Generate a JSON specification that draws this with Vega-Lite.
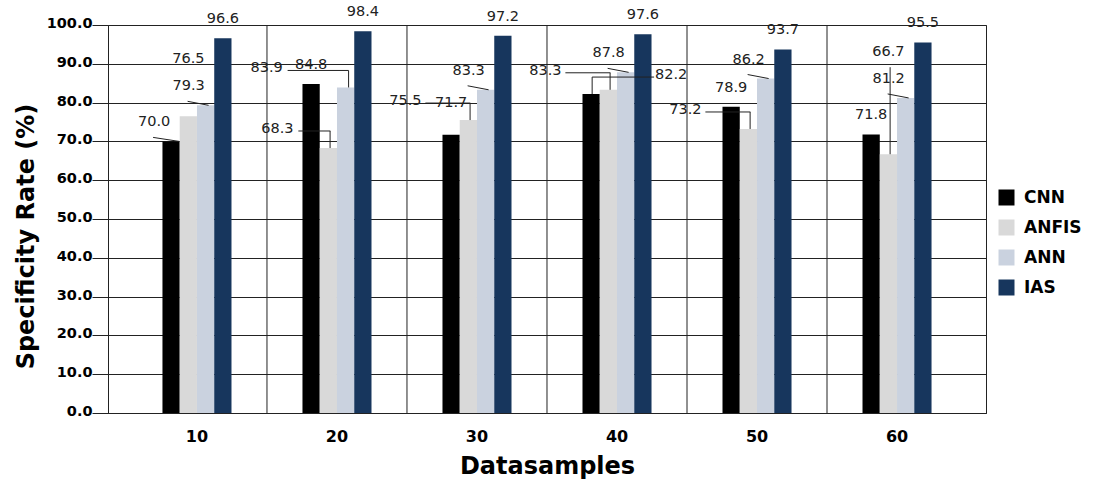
{
  "$schema": "https://vega.github.io/schema/vega-lite/v6.json",
  "width": 878,
  "height": 388,
  "autosize": {"type": "none"},
  "padding": {"left": 108, "top": 25, "right": 121, "bottom": 70},
  "background": "white",
  "config": {
    "font": "DejaVu Sans",
    "view": {"stroke": "#222222", "strokeWidth": 1}
  },
  "data": {
    "values": [
      {"Datasamples": "10", "Model": "CNN", "Rate": 70.0},
      {"Datasamples": "10", "Model": "ANFIS", "Rate": 76.5},
      {"Datasamples": "10", "Model": "ANN", "Rate": 79.3},
      {"Datasamples": "10", "Model": "IAS", "Rate": 96.6},
      {"Datasamples": "20", "Model": "CNN", "Rate": 84.8},
      {"Datasamples": "20", "Model": "ANFIS", "Rate": 68.3},
      {"Datasamples": "20", "Model": "ANN", "Rate": 83.9},
      {"Datasamples": "20", "Model": "IAS", "Rate": 98.4},
      {"Datasamples": "30", "Model": "CNN", "Rate": 71.7},
      {"Datasamples": "30", "Model": "ANFIS", "Rate": 75.5},
      {"Datasamples": "30", "Model": "ANN", "Rate": 83.3},
      {"Datasamples": "30", "Model": "IAS", "Rate": 97.2},
      {"Datasamples": "40", "Model": "CNN", "Rate": 82.2},
      {"Datasamples": "40", "Model": "ANFIS", "Rate": 83.3},
      {"Datasamples": "40", "Model": "ANN", "Rate": 87.8},
      {"Datasamples": "40", "Model": "IAS", "Rate": 97.6},
      {"Datasamples": "50", "Model": "CNN", "Rate": 78.9},
      {"Datasamples": "50", "Model": "ANFIS", "Rate": 73.2},
      {"Datasamples": "50", "Model": "ANN", "Rate": 86.2},
      {"Datasamples": "50", "Model": "IAS", "Rate": 93.7},
      {"Datasamples": "60", "Model": "CNN", "Rate": 71.8},
      {"Datasamples": "60", "Model": "ANFIS", "Rate": 66.7},
      {"Datasamples": "60", "Model": "ANN", "Rate": 81.2},
      {"Datasamples": "60", "Model": "IAS", "Rate": 95.5}
    ]
  },
  "encoding": {
    "x": {
      "field": "Datasamples",
      "type": "ordinal",
      "scale": {"paddingInner": 0.507, "paddingOuter": 0.389},
      "axis": {
        "title": "Datasamples",
        "titleFontSize": 24,
        "titleFontWeight": "bold",
        "titleColor": "#000000",
        "titleX": 439,
        "titleY": 60,
        "titleBaseline": "alphabetic",
        "titleAlign": "center",
        "labelAngle": 0,
        "labelFontSize": 16,
        "labelFontWeight": "bold",
        "labelColor": "#000000",
        "labelPadding": 15,
        "labelBaseline": "top",
        "ticks": false,
        "tickSize": 0,
        "domain": true,
        "domainColor": "#222222",
        "grid": false
      }
    },
    "y": {
      "field": "Rate",
      "type": "quantitative",
      "scale": {"domain": [0, 100]},
      "axis": {
        "values": [0, 10, 20, 30, 40, 50, 60, 70, 80, 90, 100],
        "format": ".1f",
        "labelOverlap": false,
        "grid": true,
        "gridColor": "#222222",
        "gridOpacity": 1,
        "tickSize": 16,
        "tickColor": "#222222",
        "domainColor": "#222222",
        "labelPadding": 0,
        "labelOffset": -1.5,
        "labelFontSize": 14.5,
        "labelFontWeight": "bold",
        "labelColor": "#000000",
        "title": "Specificity Rate (%)",
        "titleFontSize": 24,
        "titleFontWeight": "bold",
        "titleColor": "#000000",
        "titleAngle": -90,
        "titleX": -75,
        "titleY": 211,
        "titleAlign": "center",
        "titleBaseline": "alphabetic"
      }
    }
  },
  "layer": [
    {
      "transform": [{"filter": "datum.Model == 'CNN' && datum.Datasamples != '10'"}],
      "mark": {"type": "rule", "color": "#222222", "strokeWidth": 1, "y2Offset": 14},
      "encoding": {
        "x": {"field": "Datasamples", "type": "ordinal", "bandPosition": -0.5143},
        "y": null
      }
    },
    {
      "mark": {"type": "bar"},
      "encoding": {
        "xOffset": {
          "field": "Model",
          "type": "nominal",
          "sort": ["CNN", "ANFIS", "ANN", "IAS"],
          "scale": {"paddingInner": 0, "paddingOuter": 0}
        },
        "color": {
          "field": "Model",
          "type": "nominal",
          "scale": {
            "domain": ["CNN", "ANFIS", "ANN", "IAS"],
            "range": ["#000000", "#D9D9D9", "#CAD2DF", "#17365D"]
          },
          "legend": {
            "title": null,
            "orient": "none",
            "legendX": 890,
            "legendY": 164,
            "padding": 0,
            "symbolType": "square",
            "symbolSize": 256,
            "symbolStrokeWidth": 0,
            "labelFontSize": 17,
            "labelFontWeight": "bold",
            "labelColor": "#000000",
            "labelOffset": 9,
            "rowPadding": 12
          }
        }
      }
    },
    {
      "transform": [{"filter": "datum.Model == 'CNN' && (datum.Datasamples == '10' || datum.Datasamples == '40')"}],
      "mark": {
        "type": "rule", "color": "#222222", "strokeWidth": 1,
        "xOffset": {"expr": "datum.Datasamples == '10' ? -18 : 63"},
        "x2Offset": {"expr": "datum.Datasamples == '10' ? 8 : 1"},
        "yOffset": {"expr": "datum.Datasamples == '10' ? -4 : -17"},
        "y2Offset": {"expr": "datum.Datasamples == '10' ? 0 : -17"}
      },
      "encoding": {
        "x": {"field": "Datasamples", "type": "ordinal", "bandPosition": 0.125},
        "x2": {"field": "Datasamples", "bandPosition": 0.125},
        "y2": {"field": "Rate"}
      }
    },
    {
      "transform": [{"filter": "datum.Model == 'CNN' && datum.Datasamples == '40'"}],
      "mark": {"type": "rule", "color": "#222222", "strokeWidth": 1, "yOffset": -17},
      "encoding": {
        "x": {"field": "Datasamples", "type": "ordinal", "bandPosition": 0.14},
        "y2": {"field": "Rate"}
      }
    },
    {
      "transform": [{"filter": "datum.Model == 'ANFIS' && datum.Datasamples != '10' && datum.Datasamples != '60'"}],
      "mark": {
        "type": "rule", "color": "#222222", "strokeWidth": 1,
        "xOffset": {"expr": "datum.Datasamples == '20' ? -30 : -43"},
        "x2Offset": 2,
        "yOffset": -17,
        "y2Offset": -17
      },
      "encoding": {
        "x": {"field": "Datasamples", "type": "ordinal", "bandPosition": 0.375},
        "x2": {"field": "Datasamples", "bandPosition": 0.375},
        "y2": {"field": "Rate"}
      }
    },
    {
      "transform": [{"filter": "datum.Model == 'ANFIS' && datum.Datasamples != '10'"}],
      "mark": {
        "type": "rule", "color": "#222222", "strokeWidth": 1,
        "yOffset": {"expr": "datum.Datasamples == '60' ? -87 : -17"}
      },
      "encoding": {
        "x": {"field": "Datasamples", "type": "ordinal", "bandPosition": 0.4},
        "y2": {"field": "Rate"}
      }
    },
    {
      "transform": [{"filter": "datum.Model == 'ANN'"}],
      "mark": {
        "type": "rule", "color": "#222222", "strokeWidth": 1,
        "xOffset": {"expr": "datum.Datasamples == '20' ? -58 : -18"},
        "x2Offset": 3,
        "yOffset": {"expr": "datum.Datasamples == '20' ? -17 : -4"},
        "y2Offset": {"expr": "datum.Datasamples == '20' ? -17 : 0"}
      },
      "encoding": {
        "x": {"field": "Datasamples", "type": "ordinal", "bandPosition": 0.625},
        "x2": {"field": "Datasamples", "bandPosition": 0.625},
        "y2": {"field": "Rate"}
      }
    },
    {
      "transform": [{"filter": "datum.Model == 'ANN' && datum.Datasamples == '20'"}],
      "mark": {"type": "rule", "color": "#222222", "strokeWidth": 1, "yOffset": -17},
      "encoding": {
        "x": {"field": "Datasamples", "type": "ordinal", "bandPosition": 0.668},
        "y2": {"field": "Rate"}
      }
    },
    {
      "mark": {
        "type": "text",
        "font": "DejaVu Sans",
        "fontSize": 14.5,
        "color": "#222222",
        "baseline": "middle",
        "align": "center",
        "dx": {"expr": "datum.Model == 'CNN' ? (datum.Datasamples == '10' ? -17 : datum.Datasamples == '40' ? 80 : 0) : datum.Model == 'ANFIS' ? ((datum.Datasamples == '10' || datum.Datasamples == '60') ? 0 : datum.Datasamples == '20' ? -51 : -63) : datum.Model == 'ANN' ? (datum.Datasamples == '20' ? -79 : -17) : 0"},
        "dy": {"expr": "datum.Model == 'CNN' ? (datum.Datasamples == '30' ? -32 : -19) : datum.Model == 'ANFIS' ? (datum.Datasamples == '10' ? -57 : datum.Datasamples == '60' ? -102 : -19) : -19"}
      },
      "encoding": {
        "xOffset": {
          "field": "Model",
          "type": "nominal",
          "sort": ["CNN", "ANFIS", "ANN", "IAS"]
        },
        "text": {"field": "Rate", "type": "quantitative", "format": ".1f"}
      }
    }
  ]
}
